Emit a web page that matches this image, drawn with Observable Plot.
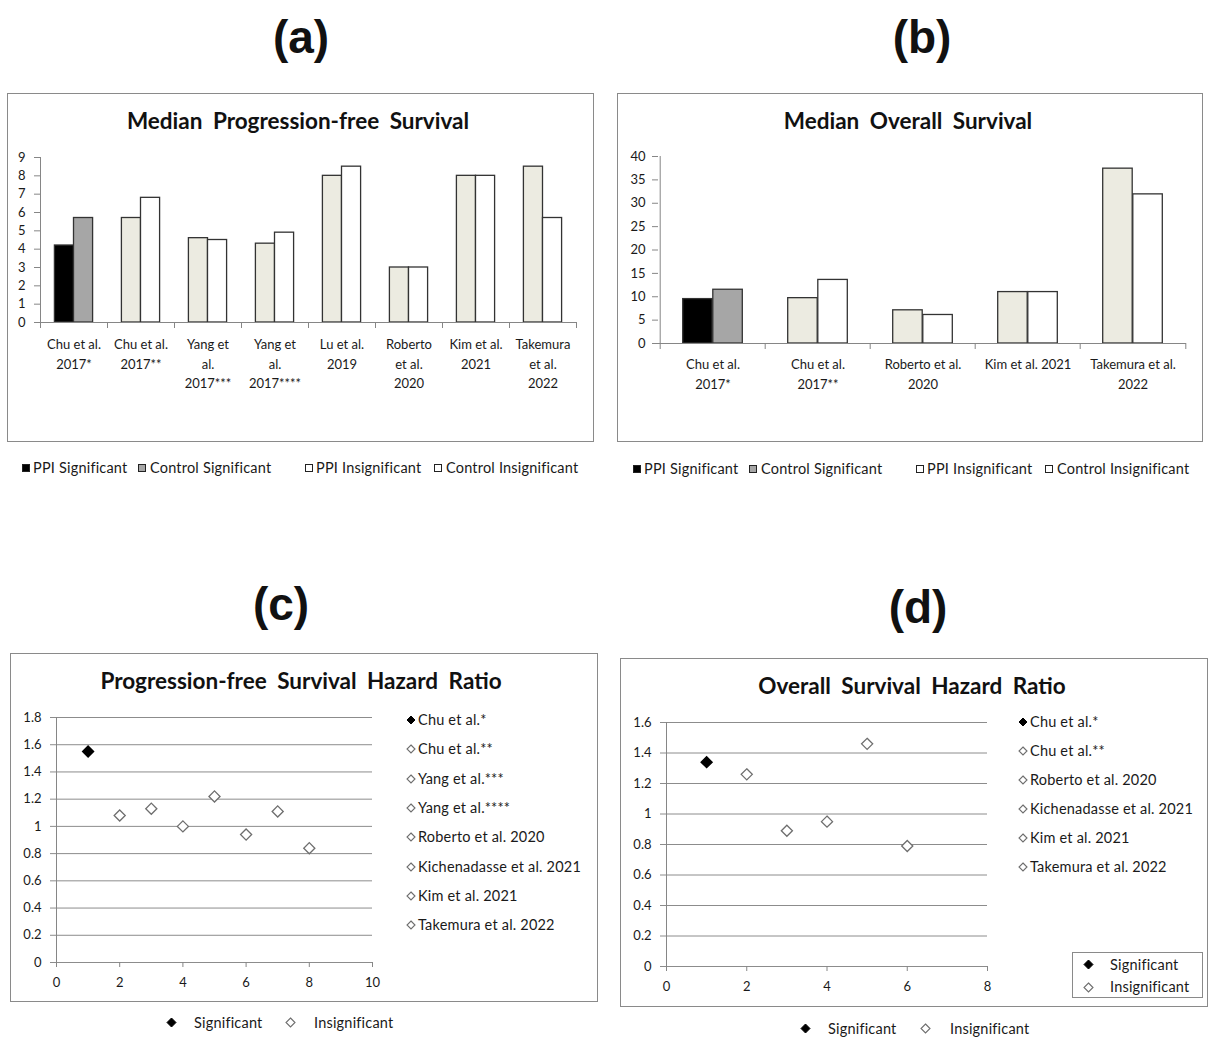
<!DOCTYPE html>
<html><head><meta charset="utf-8">
<script src="https://cdn.jsdelivr.net/npm/d3@7"></script>
<script src="https://cdn.jsdelivr.net/npm/@observablehq/plot@0.6"></script>
<style>
body{margin:0;background:#fff;}
#root{position:relative;width:1209px;height:1047px;overflow:hidden;font-family:Lato,"Open Sans",sans-serif;color:#1a1a1a;}
.abs{position:absolute;white-space:nowrap;line-height:1;}
.panel{position:absolute;border:1px solid #8a8a8a;box-sizing:border-box;}
.plabel{font-family:"Liberation Sans",Arial,sans-serif;font-weight:bold;font-size:46px;transform:translate(-50%,-50%);color:#111;}
.title{font-weight:bold;font-size:22.5px;transform:translate(-50%,-50%);word-spacing:5px;color:#111;}
.leg{font-size:14.5px;letter-spacing:0.2px;transform:translateY(-50%);}
</style>
</head><body><div id="root"></div>
<script>
// ---------- data ----------
const pfsStudies = ["Chu et al.\n2017*","Chu et al.\n2017**","Yang et\nal.\n2017***","Yang et\nal.\n2017****","Lu et al.\n2019","Roberto\net al.\n2020","Kim et al.\n2021","Takemura\net al.\n2022"];
const pfsPPI     = [4.2, 5.7, 4.6, 4.3, 8.0, 3.0, 8.0, 8.5];
const pfsControl = [5.7, 6.8, 4.5, 4.9, 8.5, 3.0, 8.0, 5.7];
const pfsSignificant = [true, false, false, false, false, false, false, false];
const pfsTicks = [0,1,2,3,4,5,6,7,8,9];

const osStudies = ["Chu et al.\n2017*","Chu et al.\n2017**","Roberto et al.\n2020","Kim et al. 2021","Takemura et al.\n2022"];
const osPPI     = [9.5, 9.7, 7.1, 11.0, 37.4];
const osControl = [11.5, 13.6, 6.1, 11.0, 31.9];
const osSignificant = [true, false, false, false, false];
const osTicks = [0,5,10,15,20,25,30,35,40];

const pfsHRStudies = ["Chu et al.*","Chu et al.**","Yang et al.***","Yang et al.****","Roberto et al. 2020","Kichenadasse et al. 2021","Kim et al. 2021","Takemura et al. 2022"];
const pfsHRIndex = [1,2,3,4,5,6,7,8];
const pfsHR = [1.55, 1.08, 1.13, 1.00, 1.22, 0.94, 1.11, 0.84];
const pfsHRSignificant = [true, false, false, false, false, false, false, false];
const pfsHRYTicks = [0,0.2,0.4,0.6,0.8,1,1.2,1.4,1.6,1.8];
const pfsHRXTicks = [0,2,4,6,8,10];

const osHRStudies = ["Chu et al.*","Chu et al.**","Roberto et al. 2020","Kichenadasse et al. 2021","Kim et al. 2021","Takemura et al. 2022"];
const osHRIndex = [1,2,3,4,5,6];
const osHR = [1.34, 1.26, 0.89, 0.95, 1.46, 0.79];
const osHRSignificant = [true, false, false, false, false, false];
const osHRYTicks = [0,0.2,0.4,0.6,0.8,1,1.2,1.4,1.6];
const osHRXTicks = [0,2,4,6,8];

const panelLabels = ["(a)","(b)","(c)","(d)"];
const panelTitles = ["Median Progression-free Survival","Median Overall Survival","Progression-free Survival Hazard Ratio","Overall Survival Hazard Ratio"];
const barLegend = ["PPI Significant","Control Significant","PPI Insignificant","Control Insignificant"];
const sigLegend = ["Significant","Insignificant"];

// ---------- styles ----------
const COL = {ppiSig:"#000000", ctlSig:"#a6a6a6", ppiIns:"#ecebe1", ctlIns:"#ffffff", barStroke:"#333333", axis:"#868686", grid:"#8c8c8c", insStroke:"#6e6e6e"};
const FONT = "Lato, 'Open Sans', sans-serif";

const root = document.getElementById("root");
function addText(txt, x, y, cls) {
  const d = document.createElement("div");
  d.className = "abs " + cls;
  d.textContent = txt;
  d.style.left = x + "px"; d.style.top = y + "px";
  root.appendChild(d); return d;
}
function diamond(x, y, size, filled) {
  const s = document.createElementNS("http://www.w3.org/2000/svg","svg");
  const h = size/2 + 1;
  s.setAttribute("width", 2*h); s.setAttribute("height", 2*h);
  s.style.position = "absolute"; s.style.left = (x - h) + "px"; s.style.top = (y - h) + "px";
  const p = document.createElementNS("http://www.w3.org/2000/svg","path");
  const r = size/2;
  p.setAttribute("d", `M${h},${h-r}L${h+r},${h}L${h},${h+r}L${h-r},${h}Z`);
  p.setAttribute("fill", filled ? "#000" : "#fff");
  p.setAttribute("stroke", filled ? "#000" : COL.insStroke);
  p.setAttribute("stroke-width", filled ? 1 : 1.1);
  s.appendChild(p); root.appendChild(s);
}
function square(x, y, fill) {
  const d = document.createElement("div");
  d.style.cssText = `position:absolute;left:${x}px;top:${y-4}px;width:8px;height:8px;box-sizing:border-box;border:1px solid #222;background:${fill}`;
  root.appendChild(d);
}
function addPanel(x0, y0, w, h, svg) {
  const box = document.createElement("div");
  box.className = "panel";
  box.style.left = x0 + "px"; box.style.top = y0 + "px";
  box.style.width = w + "px"; box.style.height = h + "px";
  root.appendChild(box);
  svg.style.position = "absolute"; svg.style.left = x0 + "px"; svg.style.top = y0 + "px";
  root.appendChild(svg);
}

function barChart({studies, ppi, control, sig, ticks, yMax, width, height, ml, mr, mt, mb, yPad, xPad}) {
  const data = studies.map((s, i) => ({study: s, ppi: ppi[i], control: control[i], sig: sig[i]}));
  const bw = (width - ml - mr) / studies.length;
  const barW = bw * 0.285;
  return Plot.plot({
    width, height, marginLeft: ml, marginRight: mr, marginTop: mt, marginBottom: mb,
    style: {fontFamily: FONT, fontSize: "13px", color: "#1a1a1a", background: "transparent", overflow: "visible"},
    x: {type: "band", domain: studies, padding: 0, axis: null},
    y: {domain: [0, yMax], axis: null},
    marks: [
      Plot.barY(data, {x: "study", y: "ppi", fill: d => d.sig ? COL.ppiSig : COL.ppiIns, stroke: COL.barStroke, strokeWidth: 1.3, insetLeft: bw/2 - barW, insetRight: bw/2}),
      Plot.barY(data, {x: "study", y: "control", fill: d => d.sig ? COL.ctlSig : COL.ctlIns, stroke: COL.barStroke, strokeWidth: 1.3, insetLeft: bw/2, insetRight: bw/2 - barW}),
      Plot.ruleY([0], {stroke: COL.axis}),
      Plot.ruleX([studies[0]], {x: d => d, dx: -bw/2, y1: 0, y2: yMax, stroke: COL.axis}),
      Plot.ruleX(studies, {x: d => d, dx: -bw/2, y1: 0, y2: 0, insetBottom: -6, stroke: COL.axis}),
      Plot.ruleX([studies[studies.length - 1]], {x: d => d, dx: bw/2, y1: 0, y2: 0, insetBottom: -6, stroke: COL.axis}),
      Plot.axisY({ticks, tickSize: 6, tickPadding: yPad, stroke: COL.axis, tickFormat: d => String(d), label: null}),
      Plot.axisX({tickSize: 0, tickPadding: xPad, lineHeight: 1.5, label: null})
    ]
  });
}

function scatterChart({idx, vals, sig, yTicks, xTicks, width, height, ml, mr, mt, mb}) {
  const data = idx.map((x, i) => ({x, y: vals[i], sig: sig[i]}));
  const xMax = xTicks[xTicks.length - 1], yMax = yTicks[yTicks.length - 1];
  const fmt = d => String(+d.toFixed(1));
  return Plot.plot({
    width, height, marginLeft: ml, marginRight: mr, marginTop: mt, marginBottom: mb,
    style: {fontFamily: FONT, fontSize: "13px", color: "#1a1a1a", background: "transparent", overflow: "visible"},
    x: {domain: [0, xMax], axis: null},
    y: {domain: [0, yMax], axis: null},
    marks: [
      Plot.ruleY(yTicks, {stroke: COL.grid}),
      Plot.ruleX([0], {stroke: COL.axis}),
      Plot.axisY({ticks: yTicks, tickSize: 6, tickPadding: 9, stroke: COL.grid, tickFormat: fmt, label: null}),
      Plot.axisX({ticks: xTicks, tickSize: 5, tickPadding: 10, stroke: COL.axis, tickFormat: fmt, label: null}),
      Plot.dot(data, {x: "x", y: "y", symbol: "diamond2", r: 5, fill: d => d.sig ? "#000" : "#fff", stroke: d => d.sig ? "#000" : COL.insStroke, strokeWidth: 1.3})
    ]
  });
}

// ---------- panel labels & titles ----------
[[301, 37], [922, 37], [281, 604], [918, 607]].forEach(([x, y], i) => addText(panelLabels[i], x, y, "plabel"));
[[298, 121], [908, 121], [301, 681], [912, 686]].forEach(([x, y], i) => addText(panelTitles[i], x, y, "title"));

// ---------- panels ----------
addPanel(7, 93, 587, 349, barChart({studies: pfsStudies, ppi: pfsPPI, control: pfsControl, sig: pfsSignificant, ticks: pfsTicks, yMax: 9,
  width: 587, height: 349, ml: 33, mr: 18, mt: 64, mb: 120, yPad: 9, xPad: 13}));
addPanel(617, 93, 586, 349, barChart({studies: osStudies, ppi: osPPI, control: osControl, sig: osSignificant, ticks: osTicks, yMax: 40,
  width: 586, height: 349, ml: 41, mr: 17, mt: 63, mb: 99, yPad: 7, xPad: 12}));
addPanel(10, 653, 588, 349, scatterChart({idx: pfsHRIndex, vals: pfsHR, sig: pfsHRSignificant, yTicks: pfsHRYTicks, xTicks: pfsHRXTicks,
  width: 588, height: 349, ml: 46, mr: 226, mt: 64, mb: 40}));
addPanel(620, 658, 588, 349, scatterChart({idx: osHRIndex, vals: osHR, sig: osHRSignificant, yTicks: osHRYTicks, xTicks: osHRXTicks,
  width: 588, height: 349, ml: 46, mr: 221, mt: 64, mb: 41}));

// ---------- bar legends ----------
const legFills = [COL.ppiSig, COL.ctlSig, COL.ctlIns, COL.ctlIns];
[[22, 467.5], [633, 468.5]].forEach(([x0, y]) => {
  const offs = [[0, 11], [116, 128], [283, 294], [412, 424]];
  offs.forEach(([sq, tx], i) => { square(x0 + sq, y, legFills[i]); addText(barLegend[i], x0 + tx, y, "leg"); });
});

// ---------- study legends (right side of scatter panels) ----------
pfsHRStudies.forEach((s, i) => { const y = 720 + i * 29.3; diamond(411, y, 8, pfsHRSignificant[i]); addText(s, 418, y, "leg"); });
osHRStudies.forEach((s, i) => { const y = 721.7 + i * 29.1; diamond(1023, y, 8, osHRSignificant[i]); addText(s, 1030, y, "leg"); });

// ---------- significance legends ----------
diamond(171, 1022.5, 9, true); addText(sigLegend[0], 194, 1022.5, "leg");
diamond(290.5, 1022.5, 9, false); addText(sigLegend[1], 314, 1022.5, "leg");
diamond(805, 1028.5, 9, true); addText(sigLegend[0], 828, 1028.5, "leg");
diamond(925.5, 1028.5, 9, false); addText(sigLegend[1], 950, 1028.5, "leg");
const lb = document.createElement("div");
lb.style.cssText = "position:absolute;left:1072px;top:952px;width:131px;height:46px;box-sizing:border-box;border:1px solid #8a8a8a";
root.appendChild(lb);
diamond(1088, 964.5, 9, true); addText(sigLegend[0], 1110, 964.5, "leg");
diamond(1088, 987, 9, false); addText(sigLegend[1], 1110, 987, "leg");
</script>
</body></html>
